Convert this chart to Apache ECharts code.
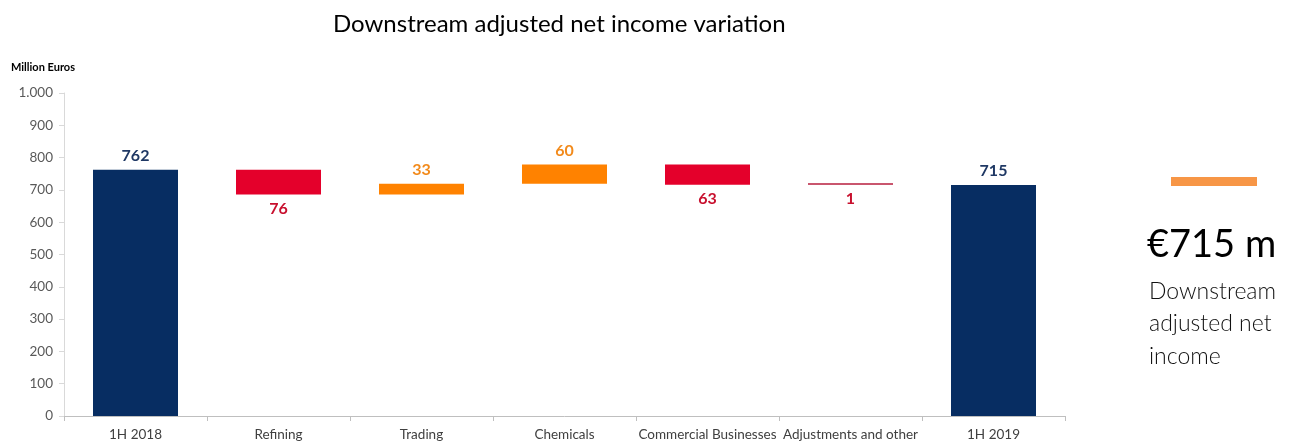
<!DOCTYPE html>
<html><head><meta charset="utf-8">
<script src="https://cdn.jsdelivr.net/npm/echarts@6/dist/echarts.min.js"></script>
<style>html,body{margin:0;padding:0;background:#fff}#c{width:1304px;height:445px}</style>
</head><body><div id="c"></div>
<script>
const categories = ['1H 2018','Refining','Trading','Chemicals','Commercial Businesses','Adjustments and other','1H 2019'];
const changes = [762, -76, 33, 60, -63, -1, 715];
const kinds = ['total','delta','delta','delta','delta','delta','total'];
const yTicks = [0,100,200,300,400,500,600,700,800,900,1000];

const base=[], totals=[], ups=[], downs=[];
let run=0;
changes.forEach((v,i)=>{
  if(kinds[i]==='total'){ base.push('-'); totals.push(v); ups.push('-'); downs.push('-'); run=v; }
  else if(v>=0){ base.push(run); ups.push(v); downs.push('-'); totals.push('-'); run+=v; }
  else { run+=v; base.push(run); downs.push(-v); ups.push('-'); totals.push('-'); }
});
const downsData = downs.map((v,i)=> (v!=='-' && v<5) ? {value:v,itemStyle:{color:'#c9566e'}} : v);

const FONT='Lato';
const chart=echarts.init(document.getElementById('c'),null,{renderer:'canvas'});
chart.setOption({
  animation:false,
  textStyle:{fontFamily:FONT},
  title:{text:'Downstream adjusted net income variation',left:328,top:7,
    textStyle:{fontFamily:FONT,fontSize:24,fontWeight:'normal',color:'#000'}},
  grid:{left:64,right:239,top:93,bottom:29},
  xAxis:{type:'category',data:categories,
    axisLine:{lineStyle:{color:'#bfbfbf'}},
    axisTick:{show:true,alignWithLabel:false,lineStyle:{color:'#bfbfbf'},length:5},
    axisLabel:{color:'#404040',fontSize:13.5,fontFamily:FONT,margin:12,interval:0}},
  yAxis:{type:'value',min:yTicks[0],max:yTicks[yTicks.length-1],interval:100,
    name:'Million Euros',nameLocation:'end',nameGap:20,
    nameTextStyle:{fontFamily:FONT,fontSize:11,fontWeight:'bold',color:'#000',align:'left',padding:[0,0,0,-53]},
    axisLine:{show:true,lineStyle:{color:'#d9d9d9'}},
    axisTick:{show:true,lineStyle:{color:'#d9d9d9'},length:5},
    splitLine:{show:false},
    axisLabel:{color:'#595959',fontSize:13.5,fontFamily:FONT,margin:11,
      formatter:v=> v>=1000 ? Math.floor(v/1000)+'.'+String(v%1000).padStart(3,'0') : String(v)}},
  series:[
    {name:'base',type:'bar',stack:'w',data:base,barWidth:85,itemStyle:{color:'transparent'},silent:true},
    {name:'total',type:'bar',stack:'w',data:totals,barWidth:85,itemStyle:{color:'#072d62'},
      label:{show:true,position:'top',distance:6,color:'#1f3864',fontSize:16,fontWeight:'bold',fontFamily:FONT}},
    {name:'increase',type:'bar',stack:'w',data:ups,barWidth:85,itemStyle:{color:'#ff8200'},
      label:{show:true,position:'top',distance:6,color:'#f28a1b',fontSize:16,fontWeight:'bold',fontFamily:FONT}},
    {name:'decrease',type:'bar',stack:'w',data:downsData,barWidth:85,barMinHeight:2,itemStyle:{color:'#e4002b'},
      label:{show:true,position:'bottom',distance:6,color:'#c8102e',fontSize:16,fontWeight:'bold',fontFamily:FONT}}
  ],
  graphic:[
    {type:'rect',left:1171,top:177,shape:{width:86,height:9},style:{fill:'#f79646'}},
    {type:'text',left:1147,top:226,style:{text:'€715 m',font:'normal 38px '+FONT,fill:'#000'}},
    {type:'text',left:1149,top:275,style:{text:'Downstream\nadjusted net\nincome',font:'300 23px '+FONT,fill:'#111',lineHeight:32.5}}
  ]
});
</script></body></html>
